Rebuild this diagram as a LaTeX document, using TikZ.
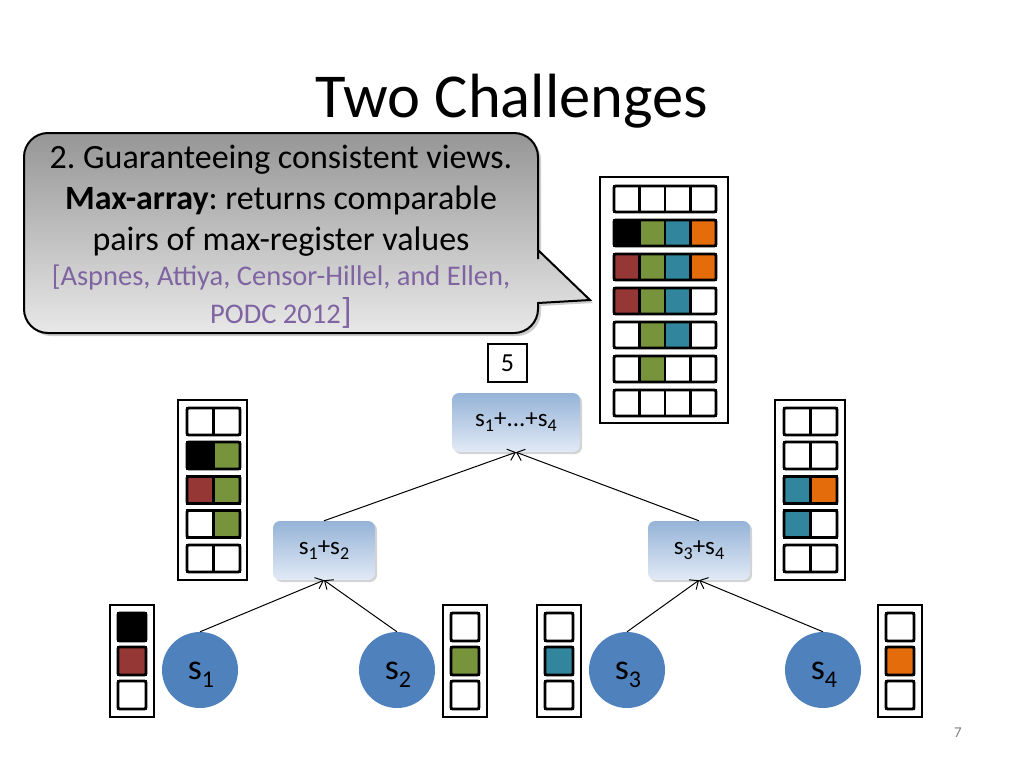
\documentclass[tikz,border=0pt]{standalone}
\usepackage{fontspec}
\setmainfont{Carlito}
\frenchspacing
\usetikzlibrary{shadows,arrows.meta}
\definecolor{cK}{RGB}{0,0,0}
\definecolor{cG}{RGB}{119,147,60}
\definecolor{cB}{RGB}{49,133,156}
\definecolor{cO}{RGB}{228,108,10}
\definecolor{cR}{RGB}{149,55,53}
\definecolor{cW}{RGB}{255,255,255}
\definecolor{leafblue}{RGB}{79,129,189}
\definecolor{citecol}{RGB}{128,100,162}
\definecolor{blueTop}{RGB}{149,179,215}
\definecolor{blueBot}{RGB}{226,234,246}
\definecolor{grayTop}{RGB}{150,150,150}
\definecolor{grayBot}{RGB}{232,232,232}
\newcommand\regrow[5]{%
  \foreach \cc [count=\ii from 0] in {#5} {
    \draw[cell, fill=\cc] ({#1+\ii*#3},#2) rectangle ++(#3,#4);
  }
  \draw[rowframe] (#1,#2) rectangle ++({#3*\ncells},#4);
}
\newcommand\ncells{1}
\newcommand\subsize{18}
\newcommand\sublow{0.2em}
\newcommand\sbs[1]{\raisebox{-\sublow}{\fontsize{\subsize}{\subsize}\selectfont #1}}
\tikzset{
  cell/.style={line width=2.2pt, draw=black},
  rowframe/.style={line width=2.8pt, draw=black, rounded corners=1.5pt},
  outerframe/.style={line width=2.4pt, draw=black, fill=white},
  sumnode/.style={rounded corners=7pt, top color=blueTop, bottom color=blueBot,
     draw=none, minimum width=#1, minimum height=59pt,
     font=\fontsize{25}{30}\selectfont\renewcommand\subsize{18}\renewcommand\sublow{0.2em},
     drop shadow={shadow xshift=2pt, shadow yshift=-2pt, opacity=0.35}},
  leafnode/.style={circle, fill=leafblue, minimum size=76pt, inner sep=0pt},
  leaftext/.style={font=\fontsize{36}{40}\selectfont\renewcommand\subsize{24}\renewcommand\sublow{0.22em}},
  edge/.style={line width=1pt, -{Straight Barb[length=7pt,width=12pt,line width=1pt]}},
  maintext/.style={font=\fontsize{34}{41}\selectfont, anchor=base},
}
\begin{document}
\begin{tikzpicture}[x=1pt,y=-1pt]
\useasboundingbox (0,0) rectangle (1024,768);

% title
\node[font=\fontsize{62.5}{70}\selectfont, anchor=base] (title) at (512,117) {Two Challenges};

% callout
\path[top color=grayTop, bottom color=grayBot, draw=black, line width=2pt,
  drop shadow={shadow xshift=3pt, shadow yshift=-3pt, opacity=0.4}]
  [rounded corners=24pt] (24,133) -- (538,133) -- (538,235)
  [sharp corners] -- (538,250) -- (590,300) -- (538,303)
  [rounded corners=24pt] -- (538,333) -- (24,333) -- cycle;
\node[maintext] (cl1) at (281,168) {2. Guaranteeing consistent views.};
\node[maintext] (cl2) at (281,209) {\textbf{Max-array}: returns comparable};
\node[maintext] (cl3) at (281,250) {pairs of max-register values};
\node[font=\fontsize{28.5}{30}\selectfont, text=citecol, anchor=base] (cl4) at (281,285) {[Aspnes, Attiya, Censor-Hillel, and Ellen,};
\node[font=\fontsize{28.5}{30}\selectfont, text=citecol, anchor=base] (cl5) at (281,323) {PODC 2012{\fontsize{36}{30}\selectfont]}};

% big max-array
\draw[outerframe] (600,177) rectangle (728,423);
\renewcommand\ncells{4}
\regrow{614}{186}{25.5}{26}{cW,cW,cW,cW}
\regrow{614}{220}{25.5}{26}{cK,cG,cB,cO}
\regrow{614}{254}{25.5}{26}{cR,cG,cB,cO}
\regrow{614}{288}{25.5}{26}{cR,cG,cB,cW}
\regrow{614}{322}{25.5}{26}{cW,cG,cB,cW}
\regrow{614}{356}{25.5}{26}{cW,cG,cW,cW}
\regrow{614}{390}{25.5}{26}{cW,cW,cW,cW}

% value box 5
\node[draw=black, line width=1.8pt, minimum width=39pt, minimum height=38pt,
  font=\fontsize{26}{28}\selectfont] (five) at (507.5,363) {5};

% sum nodes
\node[sumnode=128pt] (root) at (516,422.5) {s\sbs{1}+...+s\sbs{4}};
\node[sumnode=102pt] (n12) at (324,550.5) {s\sbs{1}+s\sbs{2}};
\node[sumnode=102pt] (n34) at (699,550.5) {s\sbs{3}+s\sbs{4}};

% middle arrays
\renewcommand\ncells{2}
\draw[outerframe] (178,400) rectangle (247,580);
\regrow{187}{408}{26.5}{27}{cW,cW}
\regrow{187}{442}{26.5}{27}{cK,cG}
\regrow{187}{476.5}{26.5}{27}{cR,cG}
\regrow{187}{510.5}{26.5}{27}{cW,cG}
\regrow{187}{545}{26.5}{27}{cW,cW}

\draw[outerframe] (775,400) rectangle (845,580);
\regrow{784}{408}{26.5}{27}{cW,cW}
\regrow{784}{442}{26.5}{27}{cW,cW}
\regrow{784}{476.5}{26.5}{27}{cB,cO}
\regrow{784}{510.5}{26.5}{27}{cB,cW}
\regrow{784}{545}{26.5}{27}{cW,cW}

% leaf arrays
\renewcommand\ncells{1}
\draw[outerframe] (110,605) rectangle (154,717);
\regrow{118}{613}{28}{28}{cK}
\regrow{118}{647}{28}{28}{cR}
\regrow{118}{681}{28}{28}{cW}

\draw[outerframe] (443,605) rectangle (487,717);
\regrow{451}{613}{28}{28}{cW}
\regrow{451}{647}{28}{28}{cG}
\regrow{451}{681}{28}{28}{cW}

\draw[outerframe] (537,605) rectangle (581,717);
\regrow{545}{613}{28}{28}{cW}
\regrow{545}{647}{28}{28}{cB}
\regrow{545}{681}{28}{28}{cW}

\draw[outerframe] (878,605) rectangle (922,717);
\regrow{886}{613}{28}{28}{cW}
\regrow{886}{647}{28}{28}{cO}
\regrow{886}{681}{28}{28}{cW}

% leaves
\node[leafnode] (s1) at (200,670) {};
\node[leafnode] (s2) at (397,670) {};
\node[leafnode] (s3) at (627,670) {};
\node[leafnode] (s4) at (823,670) {};
\node[leaftext] (t1) at (201,675) {s\sbs{1}};
\node[leaftext] (t2) at (398,675) {s\sbs{2}};
\node[leaftext] (t3) at (628,675) {s\sbs{3}};
\node[leaftext] (t4) at (824,675) {s\sbs{4}};

% edges
\draw[edge] (s1.north) -- (n12.south);
\draw[edge] (s2.north) -- (n12.south);
\draw[edge] (s3.north) -- (n34.south);
\draw[edge] (s4.north) -- (n34.south);
\draw[edge] (n12.north) -- (root.south);
\draw[edge] (n34.north) -- (root.south);

% page number
\node[text=gray, font=\fontsize{15}{16}\selectfont] (pg) at (958,733) {7};
\end{tikzpicture}
\end{document}
